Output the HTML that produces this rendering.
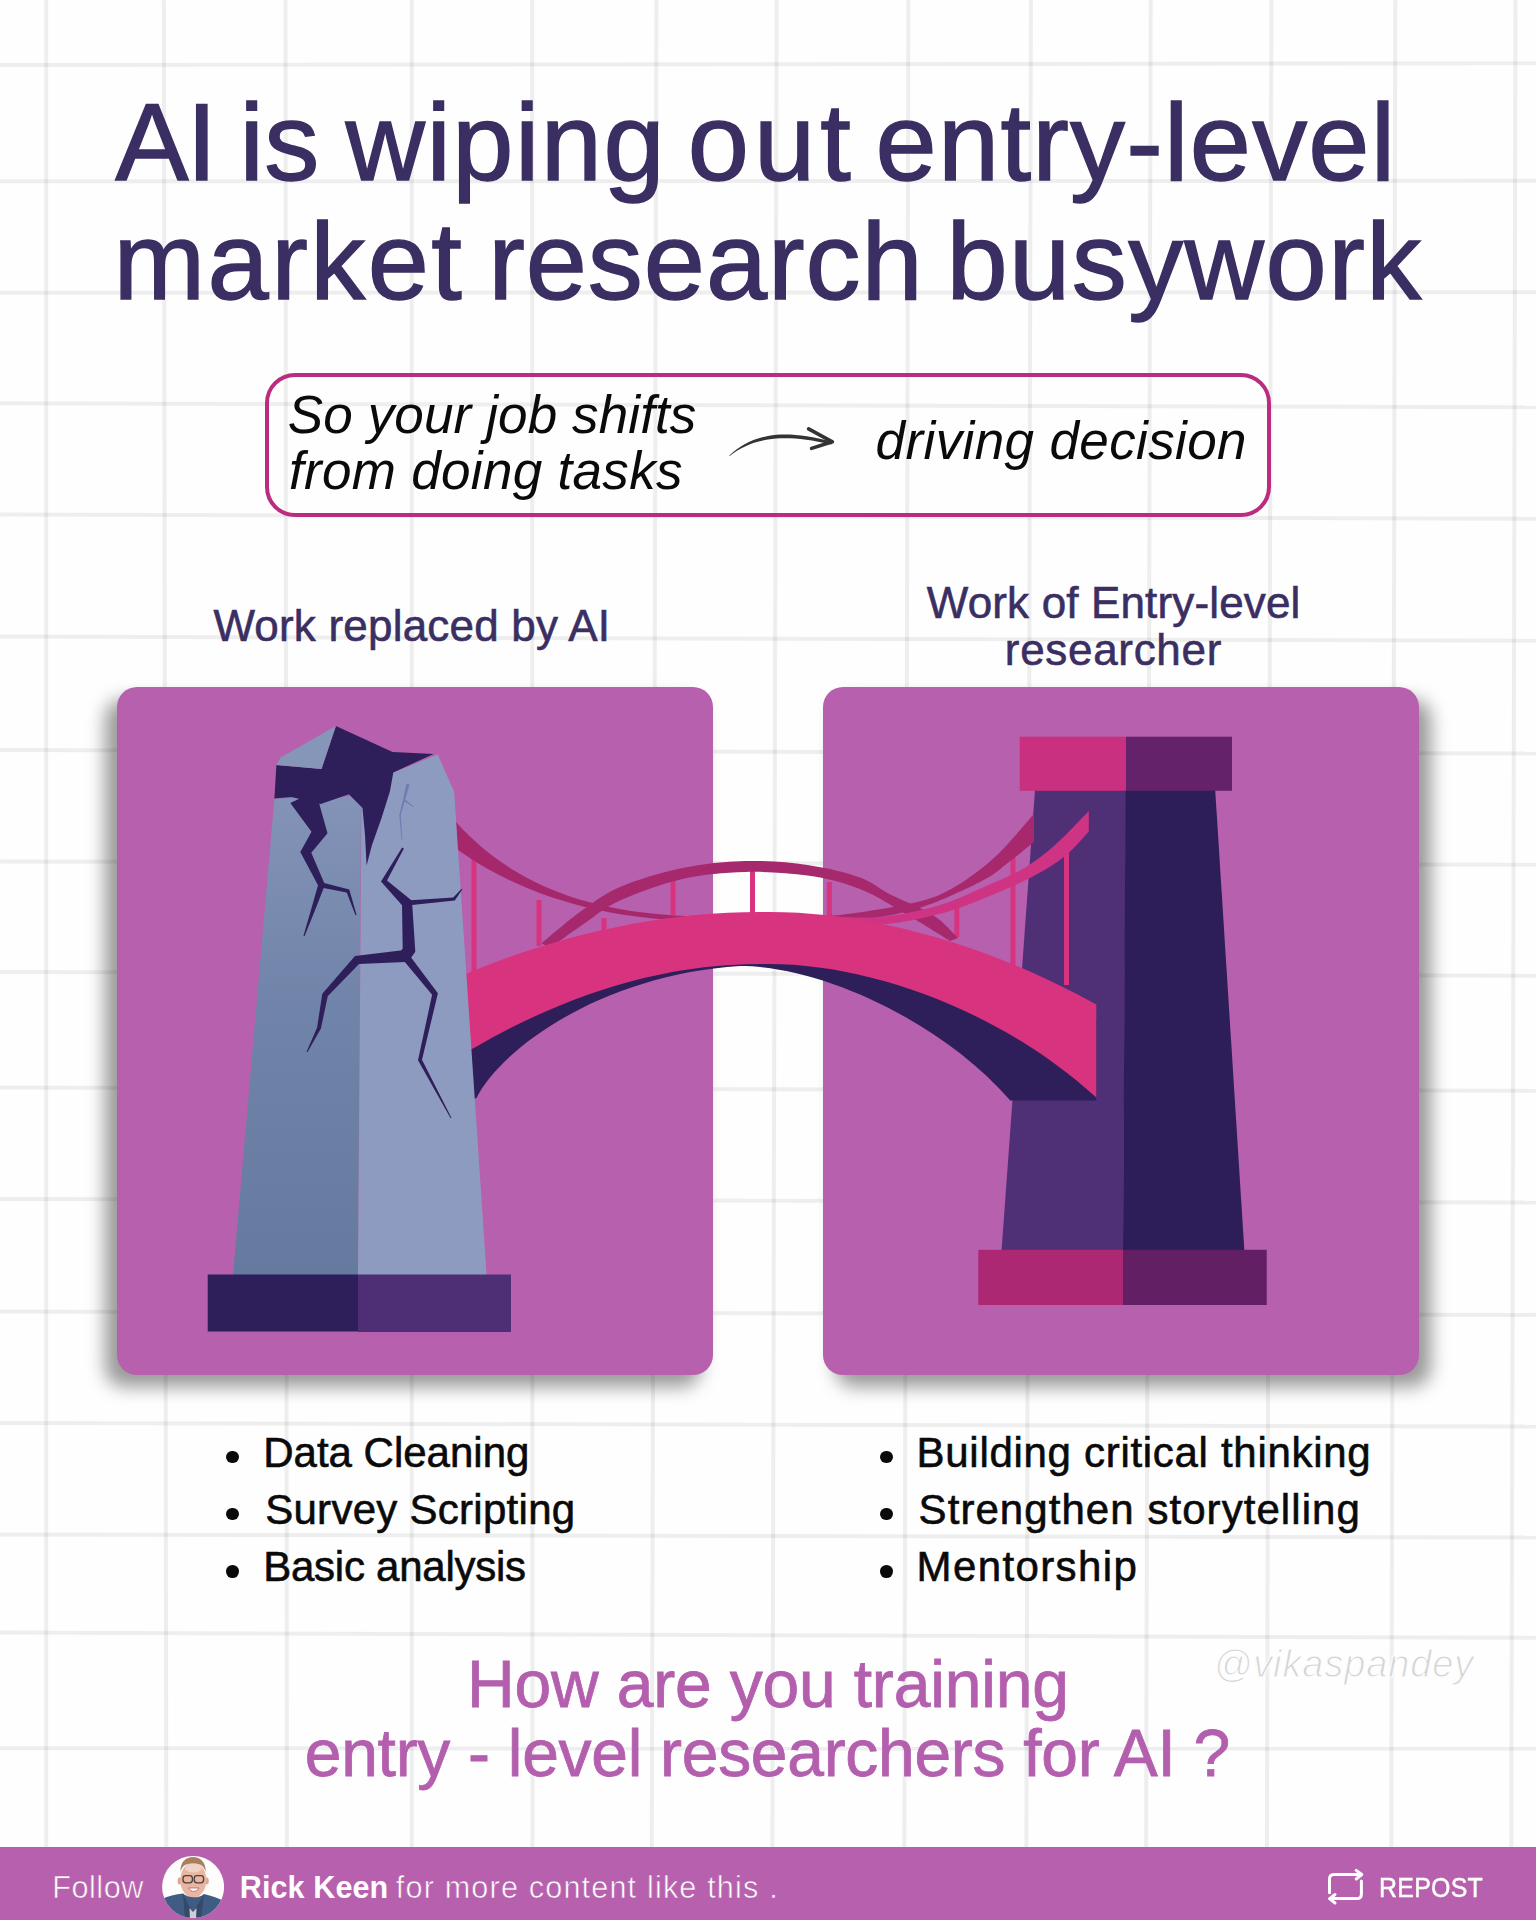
<!DOCTYPE html>
<html>
<head>
<meta charset="utf-8">
<style>
html,body{margin:0;padding:0;}
body{width:1536px;height:1920px;position:relative;overflow:hidden;background:#fefefe;font-family:"Liberation Sans",sans-serif;}
.h{position:absolute;left:0;width:1536px;height:4px;background:rgba(0,0,0,0.062);}
.v{position:absolute;top:0;height:1847px;width:4px;background:rgba(0,0,0,0.062);}
.t{position:absolute;white-space:nowrap;line-height:1;}
.tt{-webkit-text-stroke:1.4px #3a2e62;}
#q1,#q2{-webkit-text-stroke:0.8px #b35fae;}
#b1,#b2,#b3,#b4,#b5,#b6{-webkit-text-stroke:0.6px #0a0a0a;}
#f1,#f3{-webkit-text-stroke:0.6px #b760ad;}
#h1,#h2,#h3{-webkit-text-stroke:0.6px #3a2e62;}
.card{position:absolute;top:687px;width:596px;height:688px;background:#b760ad;border-radius:20px;}
</style>
</head>
<body>
<!-- grid -->
<svg style="position:absolute;left:0;top:0" width="1536" height="1847" viewBox="0 0 1536 1847"><g stroke="#000" stroke-opacity="0.062" stroke-width="4">
<line x1="0" y1="65.1" x2="1536" y2="63.3"/>
<line x1="0" y1="181.3" x2="1536" y2="180.8"/>
<line x1="0" y1="292.7" x2="1536" y2="292.3"/>
<line x1="0" y1="403.2" x2="1536" y2="407.3"/>
<line x1="0" y1="514.5" x2="1536" y2="518.7"/>
<line x1="0" y1="636.6" x2="1536" y2="640.7"/>
<line x1="0" y1="750.1" x2="1536" y2="753.6"/>
<line x1="0" y1="861.6" x2="1536" y2="864.7"/>
<line x1="0" y1="971.9" x2="1536" y2="975.7"/>
<line x1="0" y1="1087.6" x2="1536" y2="1090.8"/>
<line x1="0" y1="1198.9" x2="1536" y2="1202.5"/>
<line x1="0" y1="1311.6" x2="1536" y2="1314.9"/>
<line x1="0" y1="1422.9" x2="1536" y2="1426.6"/>
<line x1="0" y1="1534.5" x2="1536" y2="1537.6"/>
<line x1="0" y1="1632.5" x2="1536" y2="1637.8"/>
<line x1="0" y1="1748.3" x2="1536" y2="1748.6"/>
<line x1="46.2" y1="0" x2="46.2" y2="1847"/>
<line x1="163.9" y1="0" x2="166.3" y2="1847"/>
<line x1="285.5" y1="0" x2="286.9" y2="1847"/>
<line x1="411.7" y1="0" x2="411.7" y2="1847"/>
<line x1="532.1" y1="0" x2="532.5" y2="1847"/>
<line x1="656.4" y1="0" x2="651.8" y2="1847"/>
<line x1="776.6" y1="0" x2="772.4" y2="1847"/>
<line x1="908.4" y1="0" x2="904.3" y2="1847"/>
<line x1="1030.9" y1="0" x2="1026.4" y2="1847"/>
<line x1="1150.7" y1="0" x2="1146.1" y2="1847"/>
<line x1="1271.4" y1="0" x2="1266.9" y2="1847"/>
<line x1="1395.3" y1="0" x2="1391.3" y2="1847"/>
<line x1="1515.5" y1="0" x2="1511.3" y2="1847"/>
</g></svg>

<!-- title -->
<div class="t tt" id="t1a" style="left:115.2px;top:86.5px;font-size:110px;color:#3a2e62;letter-spacing:-2.00px;">AI</div>
<div class="t tt" id="t1b" style="left:239.6px;top:86.5px;font-size:110px;color:#3a2e62;letter-spacing:0.20px;">is</div>
<div class="t tt" id="t1c" style="left:345.6px;top:86.5px;font-size:110px;color:#3a2e62;letter-spacing:1.44px;">wiping</div>
<div class="t tt" id="t1d" style="left:687.8px;top:86.5px;font-size:110px;color:#3a2e62;letter-spacing:5.05px;">out</div>
<div class="t tt" id="t1e" style="left:875.6px;top:86.5px;font-size:110px;color:#3a2e62;letter-spacing:1.22px;">entry-level</div>
<div class="t tt" id="t2a" style="left:113.6px;top:205.6px;font-size:110px;color:#3a2e62;letter-spacing:2.40px;">market</div>
<div class="t tt" id="t2b" style="left:488.2px;top:205.6px;font-size:110px;color:#3a2e62;letter-spacing:0.93px;">research</div>
<div class="t tt" id="t2c" style="left:946.4px;top:205.6px;font-size:110px;color:#3a2e62;letter-spacing:1.47px;">busywork</div>

<!-- subtitle box -->
<div style="position:absolute;left:265.2px;top:373.3px;width:1005.6px;height:143.3px;box-sizing:border-box;border:4.7px solid #bb2c7e;border-radius:30px;"></div>
<div class="t" id="s1" style="left:287.8px;top:387.6px;font-size:53px;font-style:italic;color:#0a0a0a;letter-spacing:0.12px;">So your job shifts</div>
<div class="t" id="s2" style="left:289.0px;top:443.6px;font-size:53px;font-style:italic;color:#0a0a0a;letter-spacing:0.31px;">from doing tasks</div>
<svg style="position:absolute;left:700px;top:400px" width="160" height="80" viewBox="700 400 160 80">
<path d="M729.3,455.6 C740,446 752,439 768,436 C785,433 805,434.5 832,441.6 L831.4,444.4 C805,438.5 785,437 768,439.5 C752,442 740,448 729.7,455.9 Z" fill="#333"/>
<polyline points="808.6,428.8 832.4,441.8 811.6,448.4" fill="none" stroke="#333" stroke-width="3.6" stroke-linejoin="round" stroke-linecap="round"/>
</svg>
<div class="t" id="s3" style="left:875.6px;top:413.6px;font-size:53px;font-style:italic;color:#0a0a0a;letter-spacing:0.38px;">driving decision</div>

<!-- headers -->
<div class="t" id="h1" style="left:213.4px;top:603.55px;font-size:44px;color:#3a2e62;letter-spacing:0.20px;">Work replaced by AI</div>
<div class="t" id="h2" style="left:926.8px;top:581.45px;font-size:44px;color:#3a2e62;letter-spacing:0.15px;">Work of Entry-level</div>
<div class="t" id="h3" style="left:1004.8px;top:628.25px;font-size:44px;color:#3a2e62;letter-spacing:0.69px;">researcher</div>

<!-- cards -->
<div class="card" style="left:117px;box-shadow:-12px 12px 18px rgba(0,0,0,0.4);"></div>
<div class="card" style="left:823px;box-shadow:12px 12px 18px rgba(0,0,0,0.4);"></div>

<!-- illustration -->
<svg style="position:absolute;left:0;top:0" width="1536" height="1920" viewBox="0 0 1536 1920">
<polygon points="1035,790 1126,790 1123,1251 1001.5,1251" fill="#4f3077"/>
<polygon points="1125.5,790 1215.2,790 1244.4,1251 1123,1251" fill="#2d1e5a"/>
<rect x="1019.8" y="736.7" width="106.2" height="54.1" fill="#c93080"/>
<rect x="1126" y="736.7" width="106" height="54.1" fill="#63226a"/>
<rect x="978.3" y="1249.8" width="144.7" height="55.2" fill="#ad2873"/>
<rect x="1123" y="1249.8" width="143.7" height="55.2" fill="#621f63"/>
<g stroke="#d8337f" stroke-width="5">
<line x1="474" y1="855" x2="474" y2="975"/>
<line x1="539" y1="900" x2="539" y2="946"/>
<line x1="604" y1="918" x2="604" y2="932"/>
<line x1="673" y1="880" x2="673" y2="915"/>
<line x1="752.5" y1="870" x2="752.5" y2="913"/>
<line x1="829.4" y1="882" x2="829.4" y2="917"/>
<line x1="956.8" y1="908" x2="956.8" y2="937"/>
<line x1="1013" y1="856" x2="1013" y2="966"/>
<line x1="1066.5" y1="849" x2="1066.5" y2="985"/>
</g>
<path d="M450,815 C500,875 580,920 725,916 L725,921 C600,924 510,890 450,844 Z" fill="#a5286c"/>
<path d="M541.6,943.2 C548.0,938.0 566.9,921.4 580.0,912.0 C593.1,902.6 602.9,894.3 620.0,887.0 C637.1,879.7 661.7,872.3 682.5,868.0 C703.3,863.7 724.2,861.5 745.0,861.0 C765.8,860.5 788.3,862.2 807.5,865.0 C826.7,867.8 846.1,872.5 860.0,877.5 C873.9,882.5 878.6,888.5 890.8,894.8 C903.0,901.0 921.8,907.8 933.0,915.0 C944.2,922.2 953.8,934.2 958.0,938.0 L950.0,941.0 C943.0,936.7 922.7,923.7 907.7,915.0 C892.7,906.3 876.7,895.6 860.0,889.0 C843.3,882.4 826.7,878.3 807.5,875.5 C788.3,872.7 765.8,871.4 745.0,872.0 C724.2,872.6 703.3,874.2 682.5,879.0 C661.7,883.8 636.2,893.2 620.0,900.5 C603.8,907.8 596.7,915.1 585.0,923.0 C573.3,930.9 555.8,943.8 550.0,948.0 Z" fill="#a5296c"/>
<path d="M800.0,916.0 C806.7,915.8 821.2,917.2 840.0,915.0 C858.8,912.8 894.4,907.4 913.0,903.0 C931.6,898.6 938.0,896.4 951.6,888.8 C965.2,881.2 980.9,869.8 994.6,857.3 C1008.3,844.8 1027.4,821.2 1034.0,814.0 L1034.0,842.0 C1029.8,845.3 1018.0,855.3 1009.0,862.0 C1000.0,868.7 996.0,874.0 980.0,882.0 C964.0,890.0 936.3,903.3 913.0,910.0 C889.7,916.7 858.8,920.2 840.0,922.0 C821.2,923.8 806.7,921.2 800.0,921.0 Z" fill="#a8286d"/>
<path d="M820.0,916.0 C830.0,916.2 860.5,918.7 880.0,917.0 C899.5,915.3 920.3,910.7 937.0,906.0 C953.7,901.3 965.7,895.0 980.0,888.8 C994.3,882.6 1010.5,876.1 1023.0,868.8 C1035.5,861.5 1044.0,854.6 1055.0,845.0 C1066.0,835.4 1083.2,816.7 1088.8,811.0 L1088.8,831.5 C1084.8,835.6 1074.8,848.2 1065.0,856.0 C1055.2,863.8 1044.2,870.7 1030.0,878.0 C1015.8,885.3 995.5,893.9 980.0,900.0 C964.5,906.1 953.7,910.5 937.0,914.6 C920.3,918.7 899.5,923.5 880.0,924.6 C860.5,925.7 830.0,921.6 820.0,921.0 Z" fill="#cf3484"/>
<path d="M460,1104 L476.5,1098 C500,1050 600,975 740,966 C820,966 940,1020 1010.3,1100.5 L1096.3,1100.5 L1096.3,1020 C990,965 860,925 760,927 C660,927 560,950 468.6,987 L460,990 Z" fill="#2e1f5b"/>
<path d="M460,977 L468.6,972.7 C560,935 660,912 760,912 C860,910 980,940 1096.3,1004.5 L1096.3,1097.6 C1000,1010 870,964 769,964 C670,962 570,992 474,1048 L460,1054 Z" fill="#d8337f"/>
<defs><linearGradient id="lpg" gradientUnits="userSpaceOnUse" x1="0" y1="790" x2="0" y2="1275"><stop offset="0" stop-color="#8494b8"/><stop offset="0.45" stop-color="#7083a8"/><stop offset="1" stop-color="#66799f"/></linearGradient></defs>
<polygon points="274.4,798.4 361,796 358,1275 233,1275" fill="url(#lpg)"/>
<polygon points="361.5,806 393.3,772.4 437.7,754.6 454.1,791.6 486.6,1275 358,1275" fill="#8e9bc1"/>
<polygon points="276.4,764.9 321.5,769.0 335.9,725.9 392.6,751.9 433.6,754.0 393.3,772.4 389.9,791.6 381.7,817.5 372.0,845.0 366.6,865.4 365.0,835.0 362.5,808.0 348.9,794.3 320.8,803.9 291.4,797.0 274.4,798.4" fill="#2e1f5b"/>
<polygon points="335.9,725.9 280.5,757.4 276.4,764.9 321.5,769" fill="#8596b8"/>
<path d="M290.3,802.9 L311.5,831.8 L300.3,852.0 L318.0,885.2 L311.1,909.4 L303.5,935.8 L304.5,936.2 L314.9,910.6 L325.0,884.8 L311.3,852.8 L327.5,833.2 L315.7,791.1 Z" fill="#2e1f5b"/>
<path d="M320.9,887.4 L346.7,892.5 L355.5,915.2 L356.5,914.8 L349.3,889.5 L322.1,882.6 Z" fill="#2e1f5b"/>
<path d="M402.1,847.5 L381.0,881.4 L402.0,905.3 L402.7,948.2 L400.0,952.7 L410.0,959.3 L415.3,951.8 L412.0,900.7 L387.0,880.6 L403.9,848.5 Z" fill="#2e1f5b"/>
<path d="M404.5,950.0 L355.0,956.0 L322.3,993.7 L317.1,1027.4 L306.6,1051.8 L307.4,1052.2 L320.9,1028.6 L327.7,996.3 L359.0,964.0 L405.5,962.0 Z" fill="#2e1f5b"/>
<path d="M407.2,905.5 L454.8,900.5 L462.4,889.3 L461.6,888.7 L453.2,897.5 L406.8,900.5 Z" fill="#2e1f5b"/>
<path d="M401.9,958.5 L432.1,994.7 L418.0,1060.3 L450.6,1118.2 L451.4,1117.8 L422.0,1059.7 L437.9,993.3 L408.1,953.5 Z" fill="#2e1f5b"/>
<path d="M406.5,783.6 L403.0,799.7 L399.3,814.9 L401.6,840.0 L402.4,840.0 L400.7,815.1 L405.0,800.3 L409.5,784.4 Z" fill="#6d7db0"/>
<path d="M403.4,800.8 L413.8,807.3 L414.2,806.7 L404.6,799.2 Z" fill="#6d7db0"/>
<rect x="207.7" y="1274.5" width="150.3" height="57" fill="#2e1f5a"/>
<rect x="358" y="1274.5" width="153" height="57.5" fill="#4e2f76"/>
</svg>

<!-- bullets -->
<div style="position:absolute;left:226.3px;top:1450.6px;width:12.8px;height:12.8px;border-radius:50%;background:#0a0a0a;"></div>
<div style="position:absolute;left:226.3px;top:1507.7px;width:12.8px;height:12.8px;border-radius:50%;background:#0a0a0a;"></div>
<div style="position:absolute;left:226.3px;top:1564.8px;width:12.8px;height:12.8px;border-radius:50%;background:#0a0a0a;"></div>
<div style="position:absolute;left:880.1px;top:1450.6px;width:12.8px;height:12.8px;border-radius:50%;background:#0a0a0a;"></div>
<div style="position:absolute;left:880.1px;top:1507.7px;width:12.8px;height:12.8px;border-radius:50%;background:#0a0a0a;"></div>
<div style="position:absolute;left:880.1px;top:1564.8px;width:12.8px;height:12.8px;border-radius:50%;background:#0a0a0a;"></div>
<div class="t" id="b1" style="left:263.2px;top:1432.15px;font-size:42px;color:#0a0a0a;letter-spacing:0.00px;">Data Cleaning</div>
<div class="t" id="b2" style="left:265.2px;top:1489.05px;font-size:42px;color:#0a0a0a;letter-spacing:0.28px;">Survey Scripting</div>
<div class="t" id="b3" style="left:263.2px;top:1545.7px;font-size:42px;color:#0a0a0a;letter-spacing:-0.25px;">Basic analysis</div>
<div class="t" id="b4" style="left:916.6px;top:1432.15px;font-size:42px;color:#0a0a0a;letter-spacing:0.70px;">Building critical thinking</div>
<div class="t" id="b5" style="left:918.6px;top:1489.05px;font-size:42px;color:#0a0a0a;letter-spacing:1.06px;">Strengthen storytelling</div>
<div class="t" id="b6" style="left:916.6px;top:1545.7px;font-size:42px;color:#0a0a0a;letter-spacing:1.38px;">Mentorship</div>

<!-- question -->
<div class="t" id="q1" style="left:467.0px;top:1650.7px;font-size:66px;color:#b35fae;letter-spacing:-0.18px;">How are you training</div>
<div class="t" id="q2" style="left:304.8px;top:1720.4px;font-size:66px;color:#b35fae;letter-spacing:-0.30px;">entry - level researchers for AI ?</div>
<div class="t" id="w1" style="left:1213.8px;top:1644.8px;font-size:38px;font-style:italic;color:#d4d4d4;-webkit-text-stroke:1.1px #fefefe;letter-spacing:0.87px;">@vikaspandey</div>

<!-- footer -->
<div style="position:absolute;left:0;top:1847px;width:1536px;height:73px;background:#b760ad;"></div>
<div class="t" id="f1" style="left:52.2px;top:1871.9px;font-size:30.6px;color:#fff;letter-spacing:0.56px;">Follow</div>
<svg style="position:absolute;left:162px;top:1856px" width="62" height="62" viewBox="162 1856 62 62">
<defs><clipPath id="avc"><circle cx="193.1" cy="1887" r="31"/></clipPath><filter id="avb" filterUnits="userSpaceOnUse" x="150" y="1840" width="90" height="90"><feGaussianBlur stdDeviation="0.6"/></filter></defs>
<circle cx="193.1" cy="1887" r="31" fill="#fdfdfd"/>
<g clip-path="url(#avc)"><g filter="url(#avb)">
<ellipse cx="179.8" cy="1881" rx="2.2" ry="3.6" fill="#dfa58e"/>
<ellipse cx="206.6" cy="1881" rx="2.2" ry="3.6" fill="#dfa58e"/>
<ellipse cx="193.3" cy="1880" rx="13" ry="17.8" fill="#e8b6a1"/>
<path d="M180.5,1872 C180,1862 186,1857 193,1857 C200,1857 206,1862 205.8,1872 C204,1866 201,1863.5 193,1863.5 C185,1863.5 182,1866 180.5,1872 Z" fill="#a8805c"/>
<ellipse cx="193.5" cy="1868" rx="8.5" ry="4.5" fill="#f0d2c6"/>
<path d="M160,1900 C168,1896 176,1894 183,1893.5 C187,1898 199,1899 204,1894 C212,1896 221,1899 228,1903 L228,1920 L160,1920 Z" fill="#3f5b83"/>
<path d="M183,1893.5 L189,1906 L193,1912 L197,1906 L204,1894 L201,1920 L185,1920 Z" fill="#34496b"/>
<path d="M189.5,1908 L193,1912 L196.5,1908 L196,1920 L190,1920 Z" fill="#cfcfcf"/>
<rect x="183" y="1875.6" width="9.4" height="7.2" rx="2.8" fill="none" stroke="#4f3f3a" stroke-width="1.3"/>
<rect x="194.2" y="1875.6" width="9.4" height="7.2" rx="2.8" fill="none" stroke="#4f3f3a" stroke-width="1.3"/>
<path d="M188.5,1888 C191.5,1892.5 196,1892.5 199,1888 Z" fill="#ffffff" stroke="#a5554f" stroke-width="0.7"/>
</g></g>
</svg>
<div class="t" id="f2" style="left:239.8px;top:1871.9px;font-size:30.6px;font-weight:bold;color:#fff;letter-spacing:0.07px;">Rick Keen</div>
<div class="t" id="f3" style="left:395.8px;top:1871.9px;font-size:30.6px;color:#fff;letter-spacing:1.17px;">for more content like this .</div>
<svg style="position:absolute;left:1320px;top:1862px" width="50" height="50" viewBox="1320 1862 50 50">
<g fill="none" stroke="#fff" stroke-width="3" stroke-linecap="round" stroke-linejoin="round">
<path d="M1329.5,1892.8 L1329.5,1879 Q1329.5,1874.5 1334,1874.5 L1361.5,1874.5"/>
<polyline points="1356.2,1870.4 1361.8,1874.5 1356.2,1879"/>
<path d="M1361.4,1881 L1361.4,1894 Q1361.4,1898.6 1357,1898.6 L1330,1898.6"/>
<polyline points="1335,1894.5 1329.6,1898.6 1335,1903"/>
</g>
</svg>
<div class="t" id="f4" style="-webkit-text-stroke:0.5px #fff;transform:scaleX(0.89);transform-origin:0 0;left:1379.2px;top:1873.6px;font-size:28px;color:#fff;letter-spacing:0.3px;">REPOST</div>
</body>
</html>
